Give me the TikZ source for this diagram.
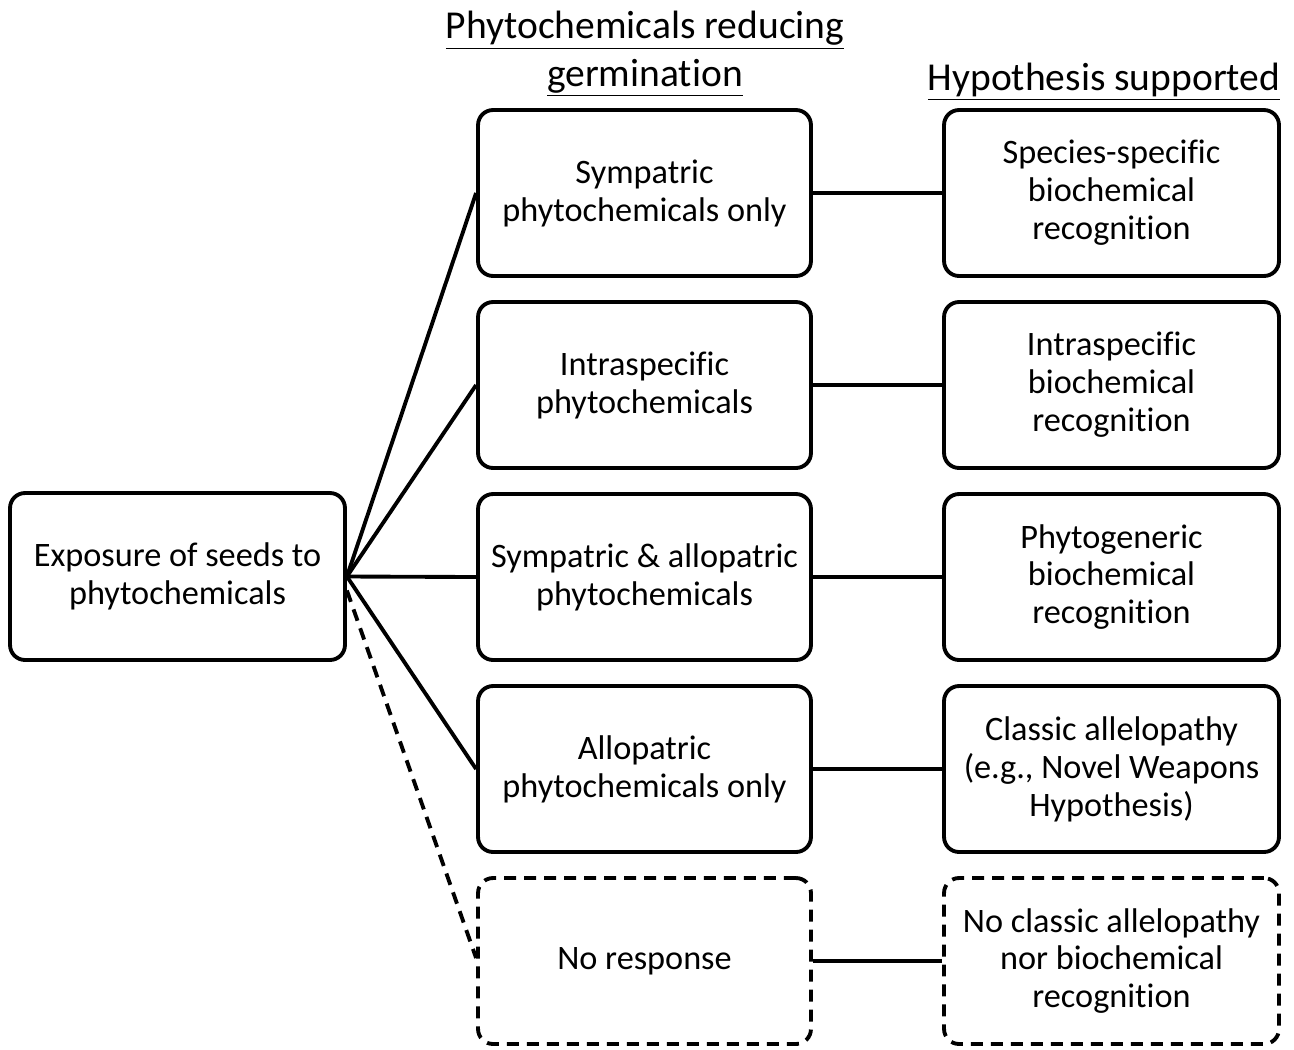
\documentclass[tikz,border=0pt]{standalone}
\usepackage{fontspec}
\setmainfont{Carlito}[Ligatures=NoCommon]
\usepackage{tikz}
\usetikzlibrary{positioning}

\begin{document}
\begin{tikzpicture}[x=0.02cm, y=-0.02cm,
		every node/.style={font=\fontsize{19.5}{21.6}\selectfont, align=center},
		boite/.style={draw, line width=2.2pt, rounded corners=0.3cm, minimum width=6.66cm, minimum height=3.32cm, inner sep=2pt},
		pointille/.style={dash pattern=on 0.24cm off 0.16cm},
		titre/.style={font=\fontsize{22.5}{27.2}\selectfont},
		lien/.style={line width=2.2pt}]
		\useasboundingbox (0,0) rectangle (1294,1049);

		% Titres des colonnes
		\node[titre] (titreA) at (645,54) {\underline{Phytochemicals reducing}\\\underline{germination}};
		\node[titre] (titreB) at (1104,82) {\underline{Hypothesis supported}};

		% Bloc de depart
		\node[boite, minimum width=6.7cm, minimum height=3.34cm] (expo) at (177.5,576.5) {Exposure of seeds to\\phytochemicals};

		% Colonne du milieu
		\node[boite] (symp) at (644.5,193) {Sympatric\\phytochemicals only};
		\node[boite] (intra) at (644.5,385) {Intraspecific\\phytochemicals};
		\node[boite] (mixte) at (644.5,577) {Sympatric \& allopatric\\phytochemicals};
		\node[boite] (allo) at (644.5,769) {Allopatric\\phytochemicals only};
		\node[boite, pointille] (rien) at (644.5,961) {No response};

		% Colonne de droite
		\node[boite, minimum width=6.7cm] (hypA) at (1111.5,193) {Species-specific\\biochemical\\recognition};
		\node[boite, minimum width=6.7cm] (hypB) at (1111.5,385) {Intraspecific\\biochemical\\recognition};
		\node[boite, minimum width=6.7cm] (hypC) at (1111.5,577) {Phytogeneric\\biochemical\\recognition};
		\node[boite, minimum width=6.7cm] (hypD) at (1111.5,769) {Classic allelopathy\\(e.g., Novel Weapons\\Hypothesis)};
		\node[boite, minimum width=6.7cm, pointille] (hypE) at (1111.5,961) {No classic allelopathy\\nor biochemical\\recognition};

		% Liens
		\foreach \cible in {symp,intra,mixte,allo}
			\draw[lien] (expo.east) -- (\cible.west);
		\draw[lien, pointille] ([yshift=-0.28cm]expo.east) -- ([yshift=0.06cm]rien.west);
		\draw[lien] (symp) -- (hypA);
		\draw[lien] (intra) -- (hypB);
		\draw[lien] (mixte) -- (hypC);
		\draw[lien] (allo) -- (hypD);
		\draw[lien] (rien) -- (hypE);
	\end{tikzpicture}
\end{document}
